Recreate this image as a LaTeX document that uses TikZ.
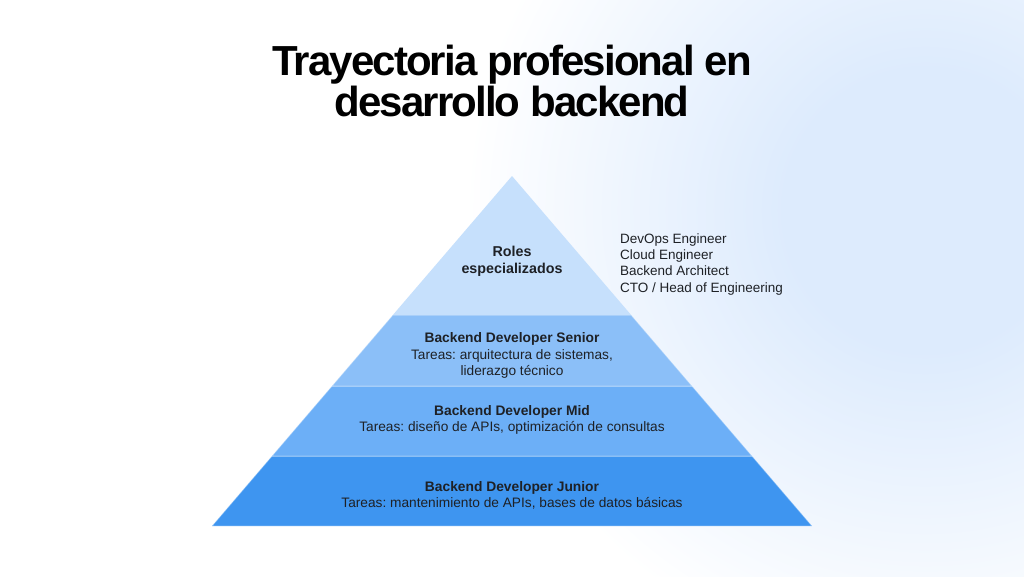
\documentclass[tikz,border=0pt]{standalone}
\usepackage{fontspec}
\setmainfont{Liberation Sans}
\newfontfamily\titlefont[LetterSpace=-4.5]{Liberation Sans}
\frenchspacing
\definecolor{glowc}{HTML}{DDEBFD}
\definecolor{lvtop}{HTML}{C6E0FC}
\definecolor{lvsen}{HTML}{8BBFF8}
\definecolor{lvmid}{HTML}{6CAFF7}
\definecolor{lvjun}{HTML}{3E95F0}
\definecolor{txt}{HTML}{1E2126}
\pgfdeclareradialshading{glow}{\pgfpoint{0bp}{0bp}}{color(0bp)=(glowc); color(3.5bp)=(glowc); color(11.5bp)=(white); color(50bp)=(white)}
\begin{document}
\begin{tikzpicture}[x=1pt,y=-1pt,
  layer/.style={draw=white, draw opacity=0.35, line width=1pt},
  head/.style={anchor=base, font=\fontsize{13.8}{16}\selectfont\bfseries, text=txt, inner sep=0pt},
  body/.style={anchor=base, font=\fontsize{13.7}{16}\selectfont, text=txt, inner sep=0pt},
  side/.style={anchor=base west, font=\fontsize{13.5}{16}\selectfont, text=txt, inner sep=0pt},
  ttl/.style={anchor=base, inner sep=0pt, align=center, font=\titlefont\fontsize{42}{37}\selectfont\bfseries}]
\useasboundingbox (0,0) rectangle (1024,576);
\fill[white] (0,0) rectangle (1024,576);
\begin{scope}
  \clip (0,0) rectangle (1024,576);
  \fill[shading=glow] (925,210) circle[radius=1000];
\end{scope}
% title (anchor=base is the baseline of the last line)
\node[ttl] (title) at (512,116) {Trayectoria profesional en\\desarrollo backend};
% pyramid layers
\fill[lvjun, layer] (272,456) -- (752,456) -- (812,526) -- (212,526) -- cycle;
\fill[lvmid, layer] (332,386) -- (692,386) -- (752,456) -- (272,456) -- cycle;
\fill[lvsen, layer] (392.86,315) -- (631.14,315) -- (692,386) -- (332,386) -- cycle;
\fill[lvtop] (512,176) -- (631.14,315) -- (392.86,315) -- cycle;
% texts
\node[head, font=\fontsize{14.3}{16}\selectfont\bfseries] (r1) at (512,256.5) {Roles};
\node[head, font=\fontsize{14.3}{16}\selectfont\bfseries] (r2) at (512,273) {especializados};
\node[head] (s1) at (512,342.5) {Backend Developer Senior};
\node[body] (s2) at (512,359) {Tareas: arquitectura de sistemas,};
\node[body] (s3) at (512,375) {liderazgo técnico};
\node[head] (m1) at (512,415) {Backend Developer Mid};
\node[body] (m2) at (512,431.5) {Tareas: diseño de APIs, optimización de consultas};
\node[head] (j1) at (512,491) {Backend Developer Junior};
\node[body] (j2) at (512,507.5) {Tareas: mantenimiento de APIs, bases de datos básicas};
\node[side] (l1) at (620,243) {DevOps Engineer};
\node[side] (l2) at (620,259.3) {Cloud Engineer};
\node[side] (l3) at (620,275.6) {Backend Architect};
\node[side] (l4) at (620,292) {CTO / Head of Engineering};
\end{tikzpicture}
\end{document}
